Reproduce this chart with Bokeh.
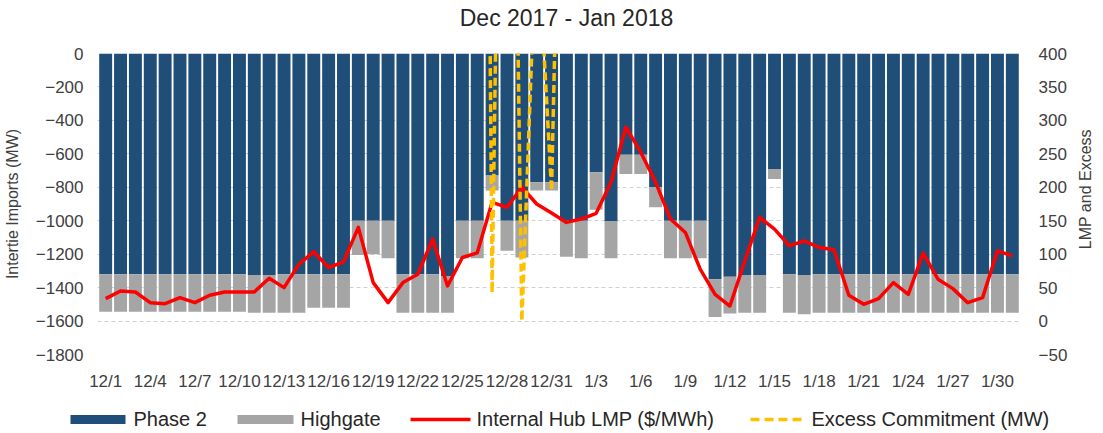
import math
import numpy as np
from bokeh.plotting import figure
from bokeh.layouts import column, row
from bokeh.models import ColumnDataSource, Range1d, LinearAxis, FixedTicker
from bokeh.core.properties import value
from bokeh.embed import file_html
from bokeh.resources import INLINE

# ---------------- data ----------------
days = [f"12/{d}" for d in range(1, 32)] + [f"1/{d}" for d in range(1, 32)]

phase2 = [-1320, -1320, -1320, -1320, -1320, -1320, -1320, -1320, -1320, -1320,
          -1325, -1325, -1320, -1320, -1320, -1320, -1320, -1000, -1000, -1000,
          -1320, -1320, -1320, -1330, -1000, -1000, -730, -1000, -1000, -770,
          -770, -1000, -1000, -710, -1005, -605, -605, -800, -1000, -1000,
          -1000, -1350, -1335, -1325, -1325, -690, -1320, -1325, -1320, -1320,
          -1320, -1320, -1320, -1320, -1320, -1320, -1320, -1320, -1320, -1320,
          -1320, -1320]

highgate = [-225, -225, -225, -225, -225, -225, -225, -225, -225, -225,
            -225, -225, -230, -230, -200, -200, -200, -205, -200, -225,
            -230, -230, -230, -220, -225, -225, -90, -180, -220, -50,
            -50, -215, -225, -225, -220, -115, -115, -120, -225, -225,
            -225, -225, -220, -225, -225, -60, -230, -235, -230, -230,
            -230, -230, -230, -230, -230, -230, -230, -230, -230, -230,
            -230, -230]

lmp = [33.5, 45, 43.5, 27.5, 26, 35, 27.5, 38.5, 43.5, 43.5,
       43.5, 64, 50, 85, 103.5, 80, 88.5, 140, 57.5, 27.5,
       57.5, 70, 122.5, 52.5, 95, 102, 177.5, 170, 200, 175,
       161.5, 147.5, 152.5, 161, 207.5, 290, 252.5, 207.5, 152.5, 132.5,
       77.5, 40, 22.5, 90, 155, 137.5, 112.5, 120, 110, 106.5,
       38.5, 25, 33.5, 57.5, 40, 101.5, 62.5, 48.5, 27.5, 35,
       105, 97.5]

nan = float("nan")
excess = [nan] * 25 + [2800, 42, 1600, 0, 600, 195, 1200] + [nan] * 30

tick_days = list(range(0, 62, 3))
tick_labels = [days[i] for i in tick_days]

left_ticks = list(range(-1800, 1, 200))
right_ticks = list(range(-50, 401, 50))

title_text = "Dec 2017 - Jan 2018"
left_title = "Intertie Imports (MW)"
right_title = "LMP and Excess"
series_names = ["Phase 2", "Highgate", "Internal Hub LMP ($/MWh)",
                "Excess Commitment (MW)"]

# ---------------- styles / layout ----------------
FONT = "Liberation Sans"
TXT = "#404040"
DARK = "#262626"
C_P2, C_HG, C_LMP, C_EXC = "#1F4E79", "#A5A5A5", "#FF0000", "#FFC000"
W = 1103
H_TITLE, H_MAIN, H_LEG = 43, 355, 35
W_RLAB = 33
W_MAIN = W - W_RLAB


def bare(fig):
    fig.outline_line_color = None
    fig.xgrid.grid_line_color = None
    fig.ygrid.grid_line_color = None
    fig.xaxis.visible = False
    fig.yaxis.visible = False
    fig.min_border = 0
    return fig


# ---------------- title strip ----------------
t = bare(figure(width=W, height=H_TITLE, x_range=Range1d(0, W),
                y_range=Range1d(0, H_TITLE), output_backend="svg",
                toolbar_location=None))
t.text(x=[566], y=[H_TITLE - 17], text=[title_text], text_align="center",
       text_baseline="middle", text_font=value(FONT), text_font_size="23px",
       text_color=DARK)

# ---------------- main chart ----------------
src = ColumnDataSource(dict(x=list(range(len(days))), phase2=phase2,
                            highgate=highgate, lmp=lmp,
                            excess=np.array(excess, dtype=float)))

p = figure(width=W_MAIN, height=H_MAIN, x_range=Range1d(-0.55, 61.55),
           y_range=Range1d(-1800, 0), output_backend="svg",
           toolbar_location=None, min_border_left=94, min_border_right=48,
           min_border_top=10, min_border_bottom=44)
p.extra_y_ranges = {"lmp": Range1d(-50, 400)}
p.outline_line_color = None

p.xgrid.grid_line_color = None
p.ygrid.ticker = FixedTicker(ticks=left_ticks)
p.ygrid.grid_line_color = "#D0D0D0"
p.ygrid.grid_line_dash = "4 3"
p.ygrid.grid_line_width = 1

p.vbar_stack(["phase2", "highgate"], x="x", width=0.87, source=src,
             color=[C_P2, C_HG], line_color=None)
p.line("x", "lmp", source=src, y_range_name="lmp", color=C_LMP,
       line_width=3.5, line_join="round")
p.line("x", "excess", source=src, y_range_name="lmp", color=C_EXC,
       line_width=3.5, line_dash="8 4")


def style_axis(ax, standoff):
    ax.axis_line_color = None
    ax.major_tick_out = 0
    ax.major_tick_in = 0
    ax.minor_tick_out = 0
    ax.minor_tick_in = 0
    ax.major_label_standoff = standoff
    ax.major_label_text_font = FONT
    ax.major_label_text_font_size = "17px"
    ax.major_label_text_color = TXT


xa = p.xaxis[0]
xa.ticker = FixedTicker(ticks=tick_days)
xa.major_label_overrides = {i: lab for i, lab in zip(tick_days, tick_labels)}
style_axis(xa, 17)

ya = p.yaxis[0]
ya.ticker = FixedTicker(ticks=left_ticks)
style_axis(ya, 14)
ya.axis_label = left_title
ya.axis_label_text_font = FONT
ya.axis_label_text_font_size = "16px"
ya.axis_label_text_font_style = "normal"
ya.axis_label_text_color = TXT
ya.axis_label_standoff = 12

ra = LinearAxis(y_range_name="lmp", ticker=FixedTicker(ticks=right_ticks))
style_axis(ra, 18)
p.add_layout(ra, "right")

# ---------------- right axis title strip ----------------
rs = bare(figure(width=W_RLAB, height=H_MAIN, x_range=Range1d(0, W_RLAB),
                 y_range=Range1d(0, H_MAIN), output_backend="svg",
                 toolbar_location=None))
rs.text(x=[15], y=[H_MAIN - 160], text=[right_title], angle=math.pi / 2,
        text_align="center", text_baseline="middle", text_font=value(FONT),
        text_font_size="16px", text_color=TXT)

# ---------------- legend strip ----------------
lg = bare(figure(width=W, height=H_LEG, x_range=Range1d(0, W),
                 y_range=Range1d(0, H_LEG), output_backend="svg",
                 toolbar_location=None))
sw_x0 = [70, 237, 410, 750]
sw_x1 = [125, 293, 470, 806]
lab_x = [133, 300, 476, 811]
sw_y = 14
lg.segment(x0=sw_x0[:2], y0=[sw_y] * 2, x1=sw_x1[:2], y1=[sw_y] * 2,
           line_color=[C_P2, C_HG], line_width=9, line_cap="butt")
lg.segment(x0=[sw_x0[2]], y0=[sw_y], x1=[sw_x1[2]], y1=[sw_y],
           line_color=C_LMP, line_width=3.5)
lg.segment(x0=[sw_x0[3]], y0=[sw_y], x1=[sw_x1[3]], y1=[sw_y],
           line_color=C_EXC, line_width=3.5, line_dash="9 5")
lg.text(x=lab_x, y=[15] * 4, text=series_names, text_align="left",
        text_baseline="middle", text_font=value(FONT),
        text_font_size="20px", text_color=DARK)

layout = column(t, row(p, rs, spacing=0), lg, spacing=0)
open("out.html", "w").write(file_html(layout, INLINE))
